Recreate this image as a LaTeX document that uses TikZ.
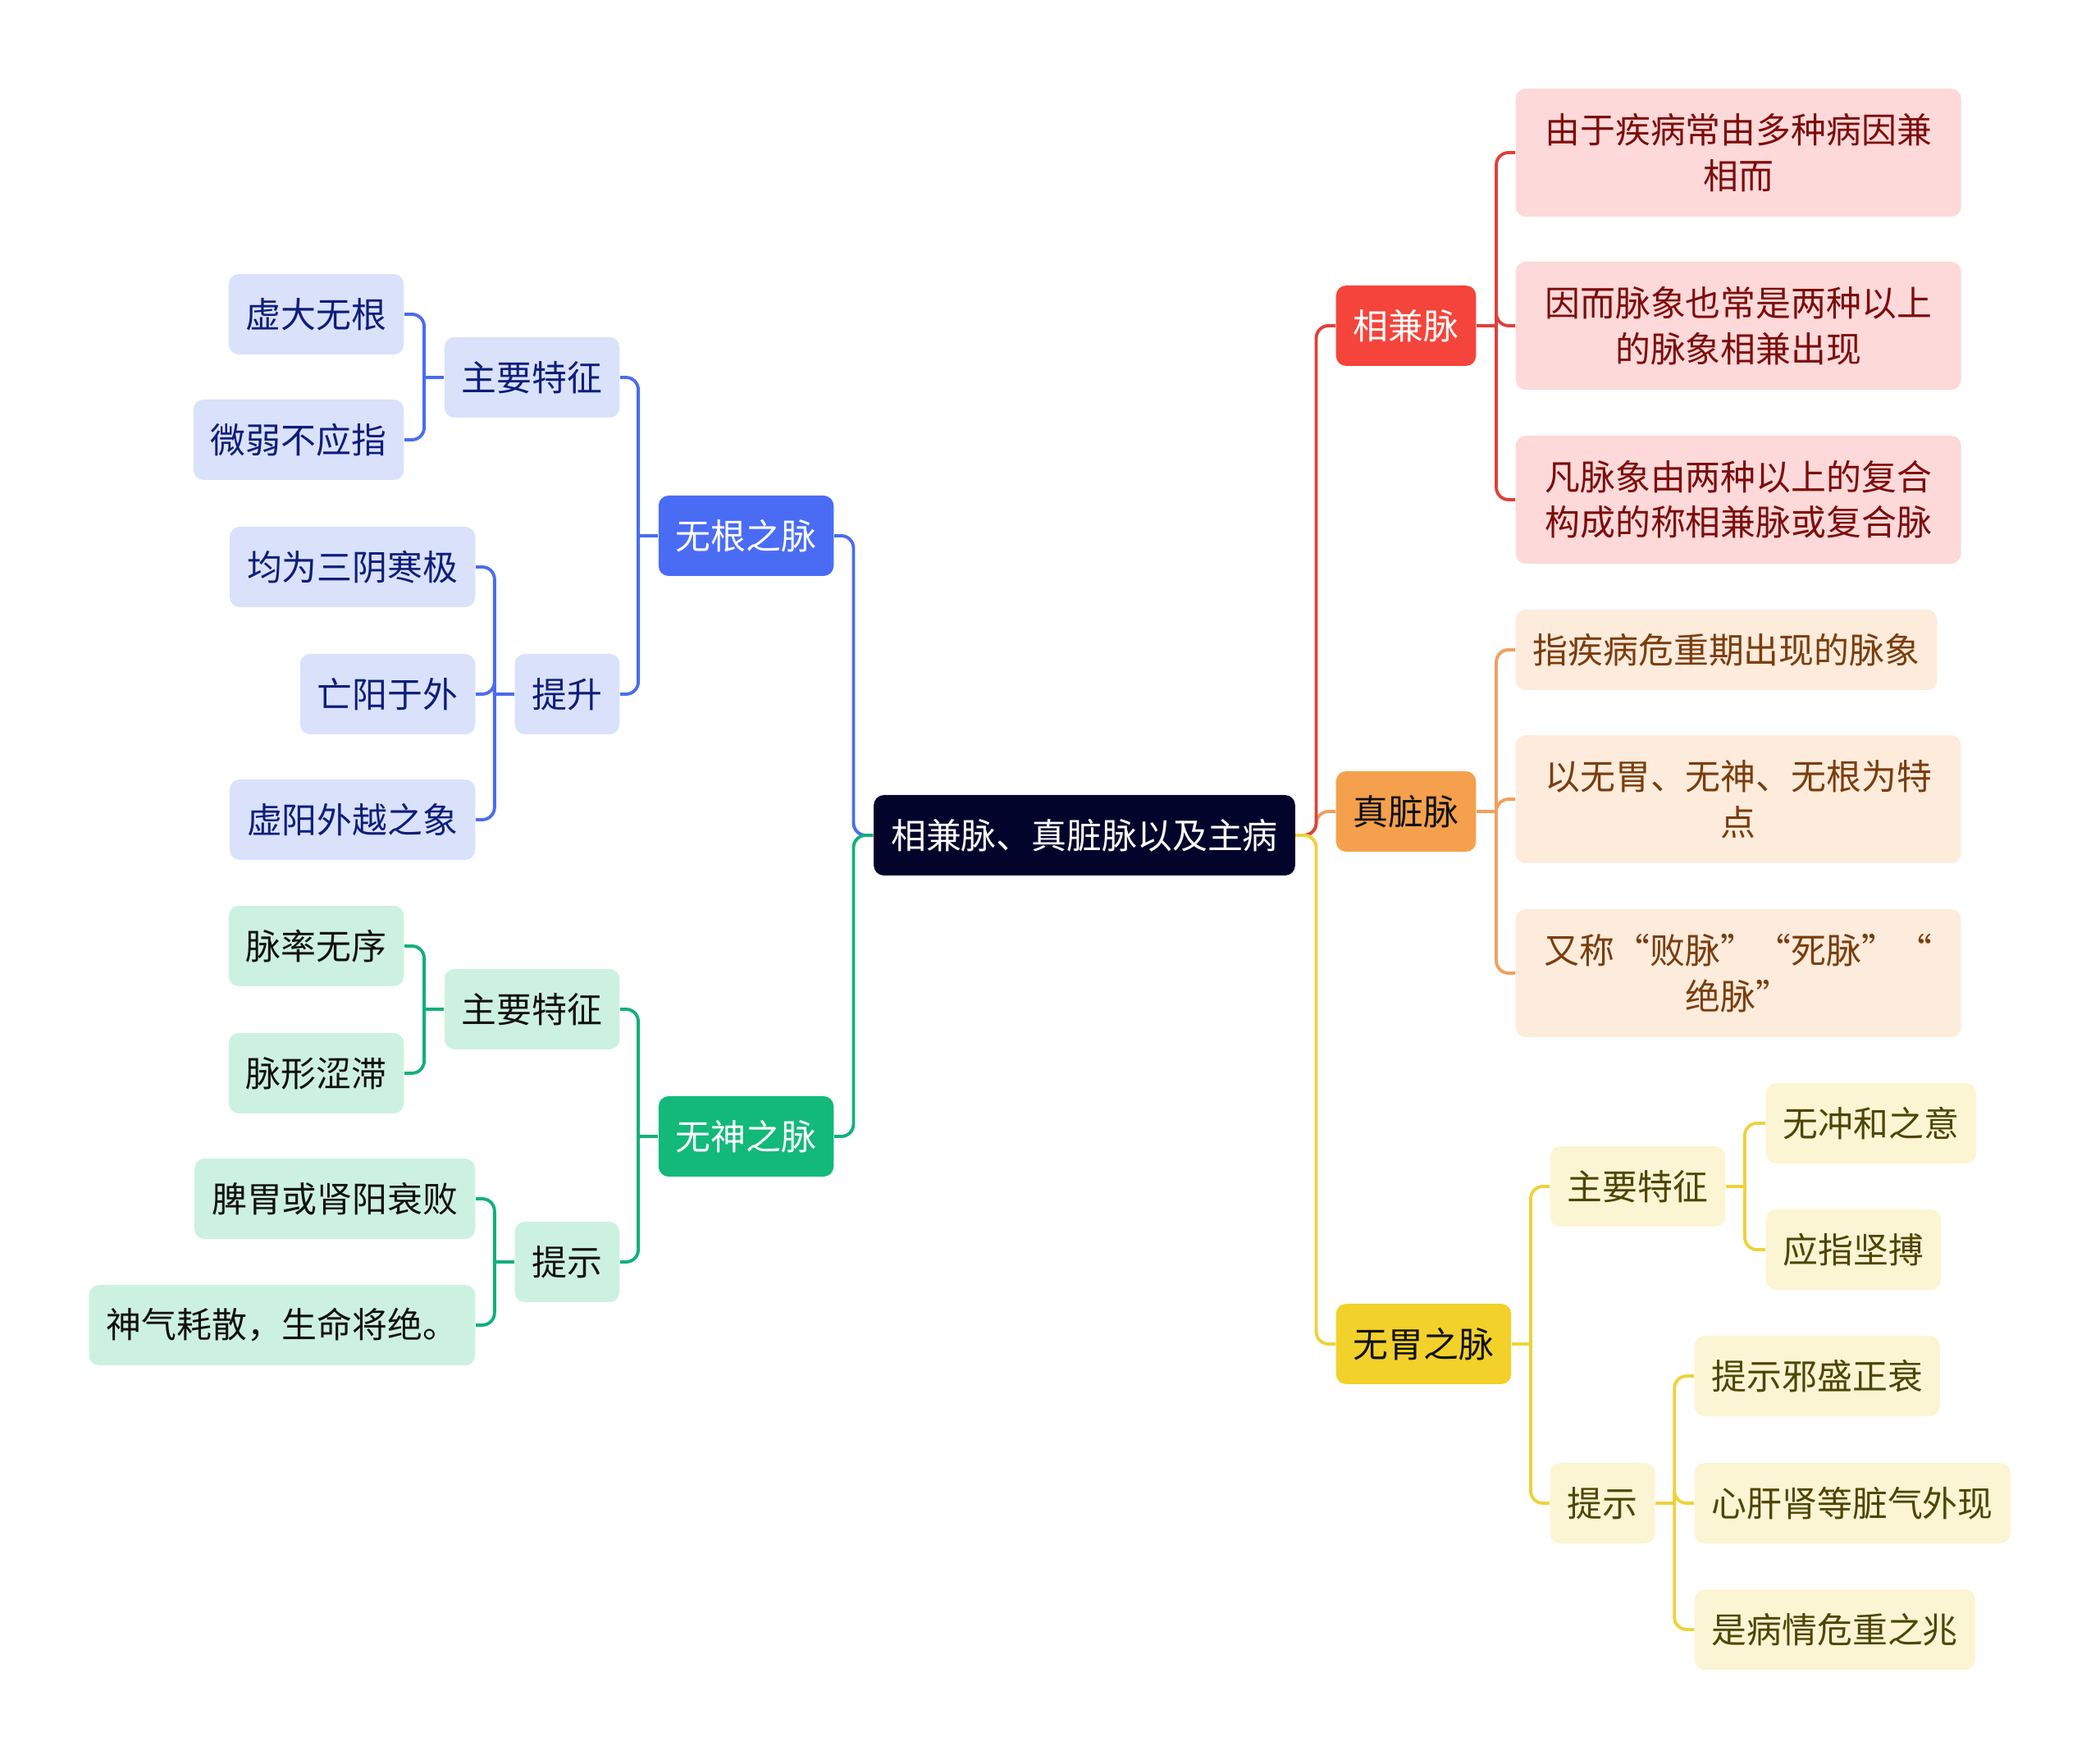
\documentclass[tikz,border=0pt]{standalone}
\usepackage{fontspec}
\setmainfont{Noto Sans CJK SC}
\usetikzlibrary{positioning}
\definecolor{rootnavy}{HTML}{03042B}
\definecolor{mainblue}{HTML}{4A6CF5}
\definecolor{maingreen}{HTML}{12B97A}
\definecolor{mainred}{HTML}{F5443B}
\definecolor{mainorange}{HTML}{F5A04C}
\definecolor{mainyellow}{HTML}{F2D12A}
\definecolor{paleblue}{HTML}{DAE1FB}
\definecolor{palegreen}{HTML}{CDF1E1}
\definecolor{palered}{HTML}{FDD9D9}
\definecolor{paleorange}{HTML}{FDEBDC}
\definecolor{paleyellow}{HTML}{FCF5D3}
\definecolor{inkblue}{HTML}{0E1E7A}
\definecolor{inkgreen}{HTML}{111111}
\definecolor{inkred}{HTML}{7D0C0C}
\definecolor{inkorange}{HTML}{7A3D0C}
\definecolor{inkyellow}{HTML}{4F4504}
\definecolor{lineblue}{HTML}{4A6CF0}
\definecolor{linegreen}{HTML}{12B07A}
\definecolor{linered}{HTML}{E0403A}
\definecolor{lineorange}{HTML}{F0A060}
\definecolor{lineyellow}{HTML}{EFD23A}

\begin{document}
\begin{tikzpicture}[
    box/.style={rounded corners=3.5pt, inner xsep=0.21cm, inner ysep=0pt,
                minimum height=0.98cm, font=\fontsize{12.2}{15.8}\selectfont},
    tallbox/.style={box, text width=5.01cm, align=center, minimum height=1.56cm},
    rootbox/.style={box, fill=rootnavy, text=white},
    bluehead/.style={box, fill=mainblue, text=white},
    greenhead/.style={box, fill=maingreen, text=white},
    redhead/.style={box, fill=mainred, text=white},
    orangehead/.style={box, fill=mainorange, text=inkgreen},
    yellowhead/.style={box, fill=mainyellow, text=inkgreen},
    bluebox/.style={box, fill=paleblue, text=inkblue},
    greenbox/.style={box, fill=palegreen, text=inkgreen},
    redbox/.style={tallbox, fill=palered, text=inkred},
    orangebox/.style={box, fill=paleorange, text=inkorange},
    yellowbox/.style={box, fill=paleyellow, text=inkyellow},
    link/.style={line width=1.1pt, rounded corners=0.15cm},
  ]
    \useasboundingbox (0,0) rectangle (25.6,21.44);
    % root
    \node[rootbox] (root) at (13.22,11.26) {相兼脉、真脏脉以及主病};
    % left: 无根之脉
    \node[bluehead, anchor=east] (wugen) at (10.17,14.91) {无根之脉};
    \node[bluebox, anchor=east] (wugentz) at (7.56,16.84) {主要特征};
    \node[bluebox, anchor=east] (xuda) at (4.93,17.61) {虚大无根};
    \node[bluebox, anchor=east] (weiruo) at (4.93,16.08) {微弱不应指};
    \node[bluebox, anchor=east] (tisheng) at (7.56,12.98) {提升};
    \node[bluebox, anchor=east] (sanyin) at (5.80,14.53) {均为三阴寒极};
    \node[bluebox, anchor=east] (wangyang) at (5.80,12.98) {亡阳于外};
    \node[bluebox, anchor=east] (xuyang) at (5.80,11.45) {虚阳外越之象};
    % left: 无神之脉
    \node[greenhead, anchor=east] (wushen) at (10.17,7.59) {无神之脉};
    \node[greenbox, anchor=east] (wushentz) at (7.56,9.14) {主要特征};
    \node[greenbox, anchor=east] (mailv) at (4.93,9.91) {脉率无序};
    \node[greenbox, anchor=east] (maixing) at (4.93,8.36) {脉形涩滞};
    \node[greenbox, anchor=east] (wushents) at (7.56,6.06) {提示};
    \node[greenbox, anchor=east] (piwei) at (5.80,6.83) {脾胃或肾阳衰败};
    \node[greenbox, anchor=east] (shenqi) at (5.80,5.29) {神气耗散，生命将绝。};
    % right: 相兼脉
    \node[redhead, anchor=west] (xiangjian) at (16.28,17.47) {相兼脉};
    \node[redbox, anchor=west] (xj1) at (18.47,19.58) {由于疾病常由多种病因兼\\相而};
    \node[redbox, anchor=west] (xj2) at (18.47,17.47) {因而脉象也常是两种以上\\的脉象相兼出现};
    \node[redbox, anchor=west] (xj3) at (18.47,15.35) {凡脉象由两种以上的复合\\构成的称相兼脉或复合脉};
    % right: 真脏脉
    \node[orangehead, anchor=west] (zhenzang) at (16.28,11.55) {真脏脉};
    \node[orangebox, anchor=west] (zz1) at (18.47,13.52) {指疾病危重期出现的脉象};
    \node[orangebox, tallbox, anchor=west] (zz2) at (18.47,11.70) {以无胃、无神、无根为特\\点};
    \node[orangebox, tallbox, anchor=west] (zz3) at (18.47,9.58) {\makebox[4.73cm][s]{又称\hspace{0pt plus 1fill}“败脉”\hspace{0pt plus 2fill}“死脉”\hspace{0pt plus 2fill}“}\\绝脉”};
    % right: 无胃之脉
    \node[yellowhead, anchor=west] (wuwei) at (16.28,5.06) {无胃之脉};
    \node[yellowbox, anchor=west] (wuweitz) at (18.89,6.98) {主要特征};
    \node[yellowbox, anchor=west] (chonghe) at (21.52,7.75) {无冲和之意};
    \node[yellowbox, anchor=west] (jianbo) at (21.52,6.21) {应指坚搏};
    \node[yellowbox, anchor=west] (wuweits) at (18.89,3.12) {提示};
    \node[yellowbox, anchor=west] (xiesheng) at (20.65,4.67) {提示邪盛正衰};
    \node[yellowbox, anchor=west] (zangqi) at (20.65,3.12) {心肝肾等脏气外现};
    \node[yellowbox, anchor=west] (weizhong) at (20.65,1.58) {是病情危重之兆};
    % connectors, left
    \draw[link, lineblue] (root.west) -- ++(-0.24,0) |- (wugen.east);
    \draw[link, linegreen] (root.west) -- ++(-0.24,0) |- (wushen.east);
    \draw[link, lineblue] (wugen.west) -- ++(-0.24,0);
    \foreach \c in {wugentz, tisheng}
      \draw[link, lineblue] ([xshift=-0.24cm]wugen.west) |- (\c.east);
    \draw[link, lineblue] (wugentz.west) -- ++(-0.24,0);
    \foreach \c in {xuda, weiruo}
      \draw[link, lineblue] ([xshift=-0.24cm]wugentz.west) |- (\c.east);
    \draw[link, lineblue] (tisheng.west) -- ++(-0.24,0);
    \foreach \c in {sanyin, wangyang, xuyang}
      \draw[link, lineblue] ([xshift=-0.24cm]tisheng.west) |- (\c.east);
    \draw[link, linegreen] (wushen.west) -- ++(-0.24,0);
    \foreach \c in {wushentz, wushents}
      \draw[link, linegreen] ([xshift=-0.24cm]wushen.west) |- (\c.east);
    \draw[link, linegreen] (wushentz.west) -- ++(-0.24,0);
    \foreach \c in {mailv, maixing}
      \draw[link, linegreen] ([xshift=-0.24cm]wushentz.west) |- (\c.east);
    \draw[link, linegreen] (wushents.west) -- ++(-0.24,0);
    \foreach \c in {piwei, shenqi}
      \draw[link, linegreen] ([xshift=-0.24cm]wushents.west) |- (\c.east);
    % connectors, right
    \draw[link, lineorange] (root.east) -- ++(0.25,0) |- (zhenzang.west);
    \draw[link, linered] (root.east) -- ++(0.25,0) |- (xiangjian.west);
    \draw[link, lineyellow] (root.east) -- ++(0.25,0) |- (wuwei.west);
    \draw[link, linered] (xiangjian.east) -- ++(0.24,0);
    \foreach \c in {xj1, xj2, xj3}
      \draw[link, linered] ([xshift=0.24cm]xiangjian.east) |- (\c.west);
    \draw[link, lineorange] (zhenzang.east) -- ++(0.24,0);
    \foreach \c in {zz1, zz2, zz3}
      \draw[link, lineorange] ([xshift=0.24cm]zhenzang.east) |- (\c.west);
    \draw[link, lineyellow] (wuwei.east) -- ++(0.23,0);
    \foreach \c in {wuweitz, wuweits}
      \draw[link, lineyellow] ([xshift=0.23cm]wuwei.east) |- (\c.west);
    \draw[link, lineyellow] (wuweitz.east) -- ++(0.23,0);
    \foreach \c in {chonghe, jianbo}
      \draw[link, lineyellow] ([xshift=0.23cm]wuweitz.east) |- (\c.west);
    \draw[link, lineyellow] (wuweits.east) -- ++(0.23,0);
    \foreach \c in {xiesheng, zangqi, weizhong}
      \draw[link, lineyellow] ([xshift=0.23cm]wuweits.east) |- (\c.west);
  \end{tikzpicture}
\end{document}
